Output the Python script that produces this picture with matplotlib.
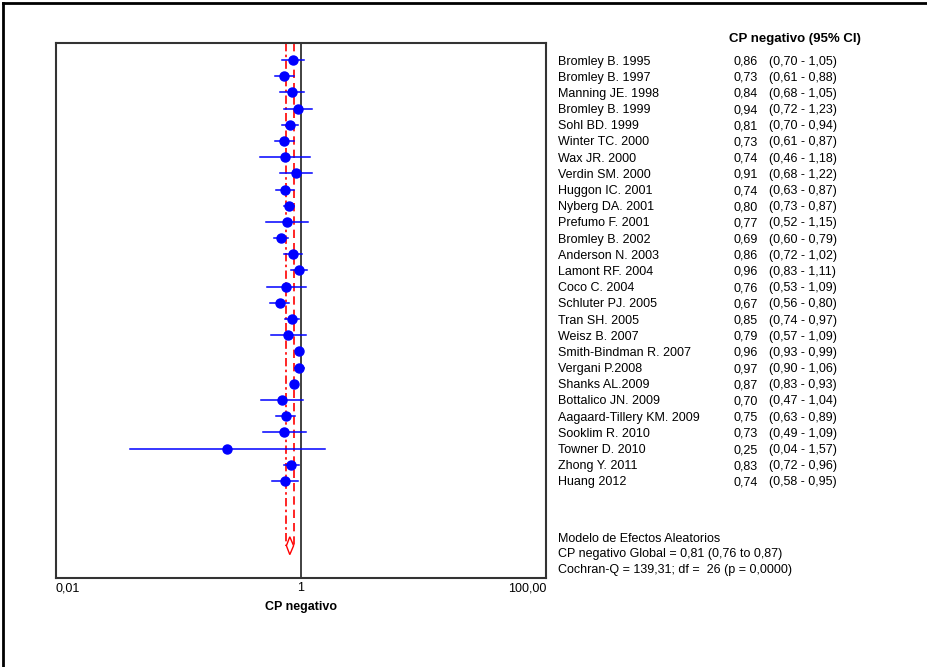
import matplotlib.pyplot as plt
from matplotlib.transforms import blended_transform_factory, ScaledTranslation
from matplotlib.patches import Polygon
from matplotlib.lines import Line2D

# Estudios y valores (CP negativo, IC 95%)
estudios = ["Bromley B. 1995", "Bromley B. 1997", "Manning JE. 1998", "Bromley B. 1999",
            "Sohl BD. 1999", "Winter TC. 2000", "Wax JR. 2000", "Verdin SM. 2000",
            "Huggon IC. 2001", "Nyberg DA. 2001", "Prefumo F. 2001", "Bromley B. 2002",
            "Anderson N. 2003", "Lamont RF. 2004", "Coco C. 2004", "Schluter PJ. 2005",
            "Tran SH. 2005", "Weisz B. 2007", "Smith-Bindman R. 2007", "Vergani P.2008",
            "Shanks AL.2009", "Bottalico JN. 2009", "Aagaard-Tillery KM. 2009",
            "Sooklim R. 2010", "Towner D. 2010", "Zhong Y. 2011", "Huang 2012"]
cp = [0.86, 0.73, 0.84, 0.94, 0.81, 0.73, 0.74, 0.91, 0.74, 0.80, 0.77, 0.69, 0.86,
      0.96, 0.76, 0.67, 0.85, 0.79, 0.96, 0.97, 0.87, 0.70, 0.75, 0.73, 0.25, 0.83, 0.74]
ic_inf = [0.70, 0.61, 0.68, 0.72, 0.70, 0.61, 0.46, 0.68, 0.63, 0.73, 0.52, 0.60, 0.72,
          0.83, 0.53, 0.56, 0.74, 0.57, 0.93, 0.90, 0.83, 0.47, 0.63, 0.49, 0.04, 0.72, 0.58]
ic_sup = [1.05, 0.88, 1.05, 1.23, 0.94, 0.87, 1.18, 1.22, 0.87, 0.87, 1.15, 0.79, 1.02,
          1.11, 1.09, 0.80, 0.97, 1.09, 0.99, 1.06, 0.93, 1.04, 0.89, 1.09, 1.57, 0.96, 0.95]

# Resultado global
global_cp = 0.81
global_inf = 0.76
global_sup = 0.87
cochran_q = "139,31"
df_q = 26
p_q = "0,0000"

def coma(v):
    return f"{v:.2f}".replace(".", ",")

W, H = 927, 667
fig = plt.figure(figsize=(W / 100, H / 100), dpi=100)
plt.rcParams['font.family'] = ['Liberation Sans', 'DejaVu Sans']

# Ejes del forest plot (en pixeles del original)
x0, x1, y0, y1 = 56, 546, 43, 578
ax = fig.add_axes([x0 / W, 1 - y1 / H, (x1 - x0) / W, (y1 - y0) / H])
ax.set_xscale("log")
ax.set_xlim(0.01, 100)
paso = 16.19
ax.set_ylim((y1 - 60) / paso, (y0 - 60) / paso)

filas = list(range(len(estudios)))
for i in filas:
    ax.plot([ic_inf[i], ic_sup[i]], [i, i], color="#0000ff", lw=1.1, zorder=3)
ax.plot(cp, filas, "o", color="#0000ff", ms=6.5, zorder=4)

# Diamante global y lineas
fila_diam = len(estudios) + 3
ax.add_patch(Polygon([[global_inf, fila_diam], [global_cp, fila_diam - 0.55],
                      [global_sup, fila_diam], [global_cp, fila_diam + 0.55]],
                     closed=True, fill=False, edgecolor="red", lw=1, zorder=2))
ax.plot([global_inf, global_inf], [ax.get_ylim()[1], fila_diam], color="red", lw=1.2,
        ls=(0, (5, 2, 1.5, 2)), zorder=2)
ax.plot([global_sup, global_sup], [ax.get_ylim()[1], fila_diam], color="red", lw=1.2,
        ls=(0, (5, 3)), zorder=2)
ax.axvline(1, color="#333333", lw=1.3, zorder=1)

for s in ax.spines.values():
    s.set_color("#333333")
    s.set_linewidth(1.5)
ax.set_yticks([])
ax.set_xticks([0.01, 1, 100])
ax.set_xticks([], minor=True)
ax.set_xticklabels(["0,01", "1", "100,00"], fontsize=9)
ax.tick_params(axis="x", length=0, pad=3)
labs = ax.get_xticklabels()
labs[0].set_ha("left")
labs[2].set_ha("right")
ax.set_xlabel("CP negativo", fontsize=9, fontweight="bold", labelpad=5)

# Columna de texto (linea base 4.5 px bajo el centro de la fila)
tr = blended_transform_factory(fig.transFigure, ax.transData) + \
    ScaledTranslation(0, -4.5 / 100, fig.dpi_scale_trans)
for i in filas:
    fig.text(558 / W, i, estudios[i], transform=tr, fontsize=9, va="baseline")
    fig.text(733 / W, i, coma(cp[i]), transform=tr, fontsize=9, va="baseline")
    fig.text(769 / W, i, f"({coma(ic_inf[i])} - {coma(ic_sup[i])})", transform=tr,
             fontsize=9, va="baseline")
fig.text(729 / W, 1 - 42 / H, "CP negativo (95% CI)", fontsize=9.5, fontweight="bold",
         va="baseline")

pie = ["Modelo de Efectos Aleatorios",
       f"CP negativo Global = {coma(global_cp)} ({coma(global_inf)} to {coma(global_sup)})",
       f"Cochran-Q = {cochran_q}; df =  {df_q} (p = {p_q})"]
for k, t in enumerate(pie):
    fig.text(558 / W, 1 - (541.5 + 16 * k) / H, t, fontsize=9, va="baseline")

# Marco exterior (arriba e izquierda)
fig.add_artist(Line2D([3 / W, 3 / W], [0, 1 - 3 / H], color="black", lw=2))
fig.add_artist(Line2D([3 / W, 1], [1 - 3 / H, 1 - 3 / H], color="black", lw=2))

fig.savefig("out.png", dpi=100)
